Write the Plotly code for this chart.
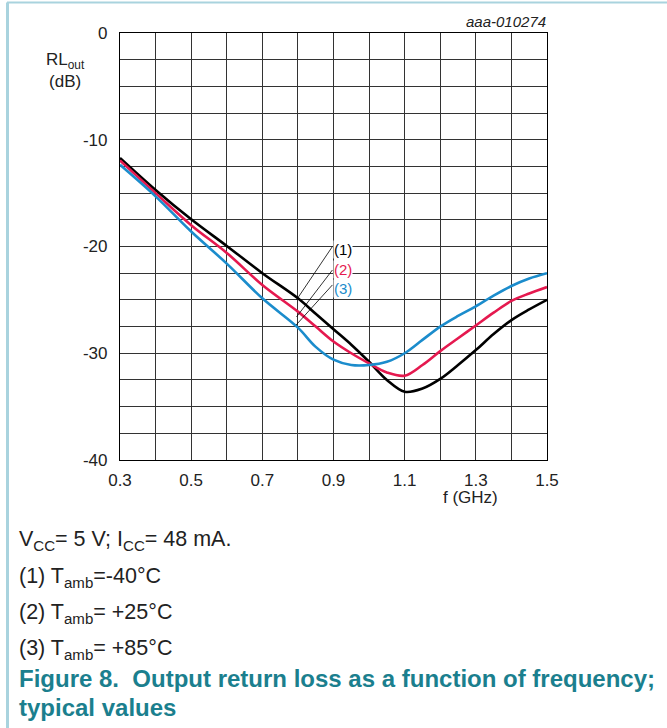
import plotly.graph_objects as go

# ---------------- data ----------------
freq_ghz = [0.3, 0.4, 0.5, 0.6, 0.7, 0.8, 0.85, 0.9, 0.95, 1.0, 1.05, 1.1, 1.15, 1.2, 1.25, 1.3, 1.35, 1.4, 1.45, 1.5]
rl_m40 = [-11.7, -14.7, -17.45, -19.95, -22.5, -24.85, -26.3, -27.75, -29.2, -30.8, -32.5, -33.6, -33.3, -32.4, -31.1, -29.7, -28.2, -26.9, -25.9, -25.0]
rl_p25 = [-11.95, -15.0, -18.0, -20.6, -23.6, -26.1, -27.5, -28.9, -30.0, -30.95, -31.8, -32.1, -31.1, -29.8, -28.6, -27.4, -26.2, -25.1, -24.4, -23.8]
rl_p85 = [-12.35, -15.3, -18.6, -21.6, -24.85, -27.6, -29.4, -30.6, -31.1, -31.1, -30.8, -30.0, -28.75, -27.5, -26.5, -25.6, -24.6, -23.7, -23.0, -22.5]

series_names = ["(1)", "(2)", "(3)"]
series_colors = ["#000000", "#e5194f", "#1b8ccc"]

# leader lines from labels to curves (data coords)
leader_top_f = [0.897, 0.897, 0.897]
leader_top_db = [-20.0, -22.2, -23.6]
leader_bot_f = [0.796, 0.796, 0.795]
leader_bot_db = [-25.0, -26.6, -27.35]
label_f = [0.928, 0.928, 0.928]
label_db = [-20.3, -22.2, -23.9]

x_tickvals = [0.3, 0.4, 0.5, 0.6, 0.7, 0.8, 0.9, 1.0, 1.1, 1.2, 1.3, 1.4, 1.5]
x_ticktext = ["0.3", "", "0.5", "", "0.7", "", "0.9", "", "1.1", "", "1.3", "", "1.5"]
y_tickvals = [0, -2.5, -5, -7.5, -10, -12.5, -15, -17.5, -20, -22.5, -25, -27.5, -30, -32.5, -35, -37.5, -40]
y_ticktext = ["0", "", "", "", "-10", "", "", "", "-20", "", "", "", "-30", "", "", "", "-40"]

# ---------------- layout geometry ----------------
W, H = 667, 728
L, R, T, B = 120, 547, 33, 460


def px(x):
    return (x - L) / (R - L)


def py(y):
    return (B - y) / (B - T)


FONT = "Arial, Liberation Sans, sans-serif"

fig = go.Figure()

for ys, name, col in zip([rl_m40, rl_p25, rl_p85], series_names, series_colors):
    fig.add_trace(go.Scatter(x=freq_ghz, y=ys, mode="lines", name=name,
                             line=dict(color=col, width=2.6, shape="spline", smoothing=1.0),
                             showlegend=False, hoverinfo="skip"))

for i in range(3):
    fig.add_trace(go.Scatter(x=[leader_bot_f[i], leader_top_f[i]], y=[leader_bot_db[i], leader_top_db[i]],
                             mode="lines", line=dict(color="#000000", width=0.8),
                             showlegend=False, hoverinfo="skip"))
    fig.add_annotation(x=label_f[i], y=label_db[i], xref="x", yref="y", text=series_names[i],
                       showarrow=False, font=dict(family=FONT, size=15, color=series_colors[i]),
                       bgcolor="white", borderpad=0, xanchor="center", yanchor="middle")

fig.update_xaxes(range=[0.3, 1.5], tickvals=x_tickvals, ticktext=x_ticktext,
                 showgrid=True, gridcolor="#333333", gridwidth=1, zeroline=False,
                 showline=True, linecolor="#000000", linewidth=1.2, mirror=True,
                 ticks="", ticklabelstandoff=4,
                 tickfont=dict(family=FONT, size=17, color="#222222"))
fig.update_yaxes(range=[-40, 0], tickvals=y_tickvals, ticktext=y_ticktext,
                 showgrid=True, gridcolor="#333333", gridwidth=1, zeroline=False,
                 showline=True, linecolor="#000000", linewidth=1.2, mirror=True,
                 ticks="", ticklabelstandoff=8,
                 tickfont=dict(family=FONT, size=17, color="#222222"))

# frame lines (light blue)
fig.add_shape(type="line", xref="paper", yref="paper", x0=px(7), x1=px(667), y0=py(2.5), y1=py(2.5),
              line=dict(color="#a9d3de", width=2))
fig.add_shape(type="line", xref="paper", yref="paper", x0=px(7.5), x1=px(7.5), y0=py(2.5), y1=py(728),
              line=dict(color="#a9d3de", width=3))


def text(x, y, s, size=17, color="#222222", xanchor="left", italic=False, bold=False, align="left"):
    f = dict(family=FONT, size=size, color=color)
    if italic:
        f["style"] = "italic"
    if bold:
        f["weight"] = "bold"
    fig.add_annotation(x=px(x), y=py(y), xref="paper", yref="paper", text=s, showarrow=False,
                       font=f, xanchor=xanchor, yanchor="middle", align=align)


text(65, 70, "RL<sub>out</sub><br>(dB)", size=17, xanchor="center", align="center")
text(470, 497, "f (GHz)", size=17, xanchor="center")
text(548, 22, "aaa-010274", size=15, xanchor="right", italic=True)

text(17, 540, "V<sub>CC</sub>= 5 V; I<sub>CC</sub>= 48 mA.", size=21.5)
text(17, 577, "(1) T<sub>amb</sub>=-40°C", size=21.5)
text(17, 613, "(2) T<sub>amb</sub>= +25°C", size=21.5)
text(17, 649, "(3) T<sub>amb</sub>= +85°C", size=21.5)
text(17, 678, "Figure 8.&nbsp; Output return loss as a function of frequency;", size=24, color="#1b7f8e", bold=True)
text(17, 707, "typical values", size=24, color="#1b7f8e", bold=True)

fig.update_layout(width=W, height=H, margin=dict(l=L, r=W - R, t=T, b=H - B, pad=0),
                  paper_bgcolor="white", plot_bgcolor="white", showlegend=False)

fig.write_html("out.html", config={"displayModeBar": False},
               post_script="document.body.style.margin='0px';document.body.style.overflow='hidden';")
